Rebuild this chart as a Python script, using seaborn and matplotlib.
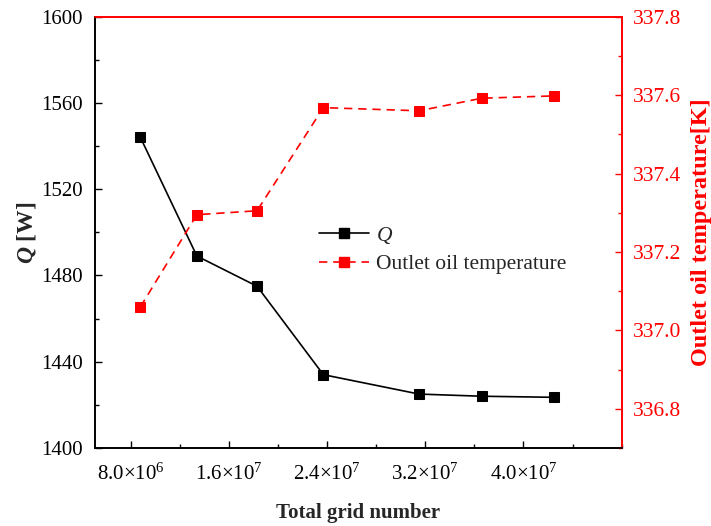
import matplotlib
matplotlib.use("Agg")
import matplotlib.pyplot as plt
import seaborn as sns
import pandas as pd
from matplotlib.ticker import MultipleLocator, FuncFormatter
from matplotlib.lines import Line2D

# Grid-independence study data
grid_number = [8.8e6, 13.4e6, 18.3e6, 23.7e6, 31.5e6, 36.6e6, 42.5e6]
heat_q = [1544, 1489, 1475, 1434, 1425, 1424, 1423.5]
outlet_temp = [337.06, 337.295, 337.305, 337.568, 337.56, 337.592, 337.598]

x_ticks = [8.0e6, 1.6e7, 2.4e7, 3.2e7, 4.0e7]
x_tick_labels = [r"$8.0{\times}10^{6}$", r"$1.6{\times}10^{7}$", r"$2.4{\times}10^{7}$",
                 r"$3.2{\times}10^{7}$", r"$4.0{\times}10^{7}$"]

sns.set_theme(style="white")
plt.rcParams["font.family"] = ["Liberation Serif", "DejaVu Serif"]
plt.rcParams["mathtext.fontset"] = "custom"
plt.rcParams["mathtext.rm"] = "Liberation Serif"
plt.rcParams["mathtext.it"] = "Liberation Serif:italic"
plt.rcParams["mathtext.bf"] = "Liberation Serif:bold"
plt.rcParams["mathtext.bfit"] = "Liberation Serif:italic:bold"

df = pd.DataFrame({"grid": grid_number, "Q": heat_q, "T": outlet_temp})

fig = plt.figure(figsize=(7.11, 5.26), dpi=100)
ax = fig.add_axes([0.1336, 0.1483, 0.8744 - 0.1336, 0.9683 - 0.1483])
ax2 = ax.twinx()

sns.lineplot(data=df, x="grid", y="Q", ax=ax, color="black", linewidth=1.2,
             marker="s", markersize=7.5, markeredgecolor="black", markerfacecolor="black")
sns.lineplot(data=df, x="grid", y="T", ax=ax2, color="red", linewidth=1.2,
             linestyle=(0, (5, 3.5)), marker="s", markersize=7.5,
             markeredgecolor="red", markerfacecolor="red")

ax.set_xlim(5.1e6, 4.8e7)
ax.set_ylim(1400, 1600)
ax2.set_ylim(336.7, 337.8)

ax.set_xticks(x_ticks)
ax.set_xticklabels(x_tick_labels)
ax.xaxis.set_minor_locator(MultipleLocator(4e6))
ax.yaxis.set_major_locator(MultipleLocator(40))
ax.yaxis.set_minor_locator(MultipleLocator(20))
ax2.set_yticks([336.8, 337.0, 337.2, 337.4, 337.6, 337.8])
ax2.yaxis.set_major_formatter(FuncFormatter(lambda v, p: f"{v:.1f}"))
ax2.yaxis.set_minor_locator(MultipleLocator(0.1))

ax.set_xlabel("Total grid number", fontsize=15, fontweight="bold", labelpad=13)
ax.set_ylabel(r"$\mathbfit{Q}$ [W]", fontsize=17, fontweight="bold", labelpad=2)
ax2.set_ylabel("Outlet oil temperature[K]", fontsize=17.5, fontweight="bold",
               color="red", labelpad=7, rotation=90)

ax.tick_params(axis="both", which="both", direction="in", colors="black",
               labelsize=15, width=1.0, bottom=True, left=True, top=False, right=False)
ax.tick_params(which="major", length=5)
ax.tick_params(which="minor", length=3)
ax.tick_params(axis="x", pad=11)
ax.tick_params(axis="y", pad=9)
ax2.tick_params(axis="y", which="both", direction="in", colors="red",
                labelcolor="red", labelsize=15.5, width=1.0, right=True, left=False, pad=8)
ax2.tick_params(which="major", length=5)
ax2.tick_params(which="minor", length=3)

for a in (ax, ax2):
    for s in a.spines.values():
        s.set_linewidth(1.2)
for a in (ax, ax2):
    a.spines["left"].set_color("black")
    a.spines["bottom"].set_color("black")
    a.spines["right"].set_color("red")
    a.spines["top"].set_color("red")

handles = [
    Line2D([], [], color="black", linewidth=1.2, marker="s", markersize=7.5),
    Line2D([], [], color="red", linewidth=1.2, linestyle=(0, (5, 3.5)), marker="s", markersize=7.5),
]
labels = [r"$\mathit{Q}$", "Outlet oil temperature"]
if ax.get_legend() is not None:
    ax.get_legend().remove()
if ax2.get_legend() is not None:
    ax2.get_legend().remove()
ax2.legend(handles, labels, loc="upper left", bbox_to_anchor=(0.409, 0.538),
           frameon=False, fontsize=15.5, handlelength=2.3, handletextpad=0.35,
           labelspacing=0.4, borderaxespad=0)

fig.savefig("out.png", dpi=100)
